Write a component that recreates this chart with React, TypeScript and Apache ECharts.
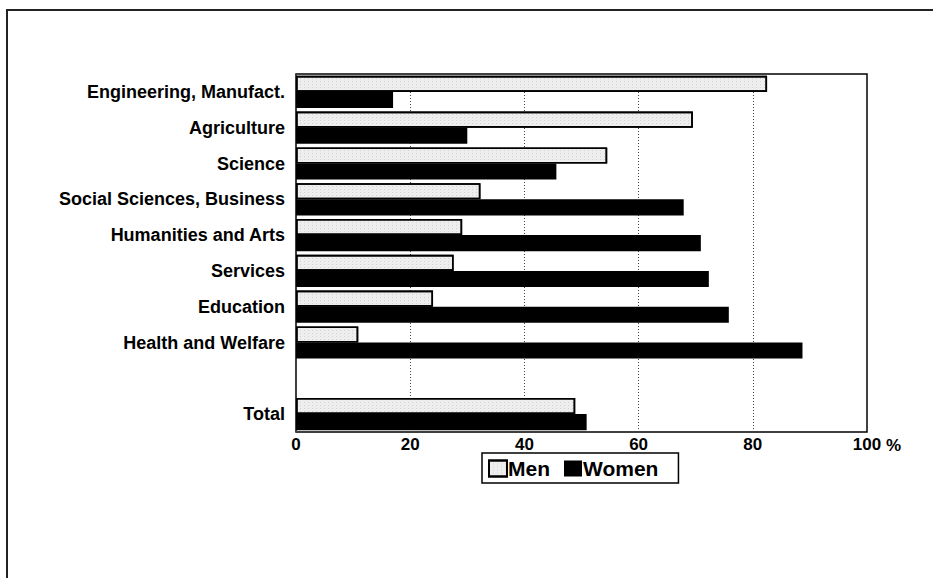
import React, { useEffect, useRef } from "react";
import * as echarts from "echarts";

const categories = [
  "Engineering, Manufact.",
  "Agriculture",
  "Science",
  "Social Sciences, Business",
  "Humanities and Arts",
  "Services",
  "Education",
  "Health and Welfare",
  "",
  "Total",
];
const menValues: (number | null)[] = [82.5, 69.5, 54.5, 32.3, 29.1, 27.6, 24.0, 10.9, null, 48.9];
const womenValues: (number | null)[] = [17.0, 30.0, 45.6, 67.9, 70.9, 72.3, 75.8, 88.7, null, 50.9];
const xTicks = [0, 20, 40, 60, 80, 100];

const FONT = '"Liberation Sans", Arial, sans-serif';

export default function App() {
  const ref = useRef<HTMLDivElement>(null);
  useEffect(() => {
    if (!ref.current) return;
    const chart = echarts.init(ref.current, null, { renderer: "svg" });
    chart.setOption({
      animation: false,
      backgroundColor: "#ffffff",
      grid: {
        left: 296,
        right: 66,
        top: 74,
        bottom: 146,
        show: true,
        borderColor: "#000",
        borderWidth: 1.5,
        backgroundColor: "transparent",
      },
      legend: {
        left: 482,
        top: 453,
        padding: [5, 20, 4, 6],
        borderColor: "#000",
        borderWidth: 1.5,
        icon: "rect",
        itemWidth: 18,
        itemHeight: 16,
        itemGap: 14,
        data: ["Men", "Women"],
        textStyle: { fontFamily: FONT, fontWeight: "bold", fontSize: 21, color: "#000", padding: [0, 0, 0, -4] },
      },
      xAxis: {
        type: "value",
        min: xTicks[0],
        max: xTicks[xTicks.length - 1],
        interval: 20,
        axisLine: { show: false },
        axisTick: { show: false },
        splitLine: {
          show: true,
          lineStyle: { color: "#444", type: [1, 2], width: 1 },
        },
        axisLabel: {
          margin: 4,
          fontFamily: FONT,
          fontWeight: "bold",
          fontSize: 17,
          color: "#000",
        },
      },
      yAxis: {
        type: "category",
        data: categories,
        inverse: true,
        axisLine: { show: false },
        axisTick: { show: false },
        splitLine: { show: false },
        axisLabel: {
          margin: 11,
          fontFamily: FONT,
          fontWeight: "bold",
          fontSize: 18,
          color: "#000",
        },
      },
      graphic: [
        {
          type: "rect",
          shape: { x: 7, y: 10, width: 2000, height: 1500 },
          style: { fill: "none", stroke: "#222", lineWidth: 2 },
          silent: true,
        },
        {
          type: "text",
          left: 886,
          top: 437,
          style: { text: "%", font: `bold 17px ${FONT}`, fill: "#000" },
        },
      ],
      series: [
        {
          name: "Men",
          type: "bar",
          data: menValues,
          barGap: "0%",
          barCategoryGap: "10%",
          itemStyle: {
            color: "#eeeeee",
            borderColor: "#000",
            borderWidth: 1.6,
            decal: {
              symbol: "rect",
              symbolSize: 0.7,
              color: "rgba(40,40,40,0.4)",
              dashArrayX: [1, 3],
              dashArrayY: [1, 2],
              rotation: 0,
            },
          },
        },
        {
          name: "Women",
          type: "bar",
          data: womenValues,
          barGap: "0%",
          barCategoryGap: "10%",
          itemStyle: { color: "#000" },
        },
      ],
    });
    return () => chart.dispose();
  }, []);
  return <div ref={ref} style={{ width: 933, height: 578, position: "absolute", left: 0, top: 0 }} />;
}
